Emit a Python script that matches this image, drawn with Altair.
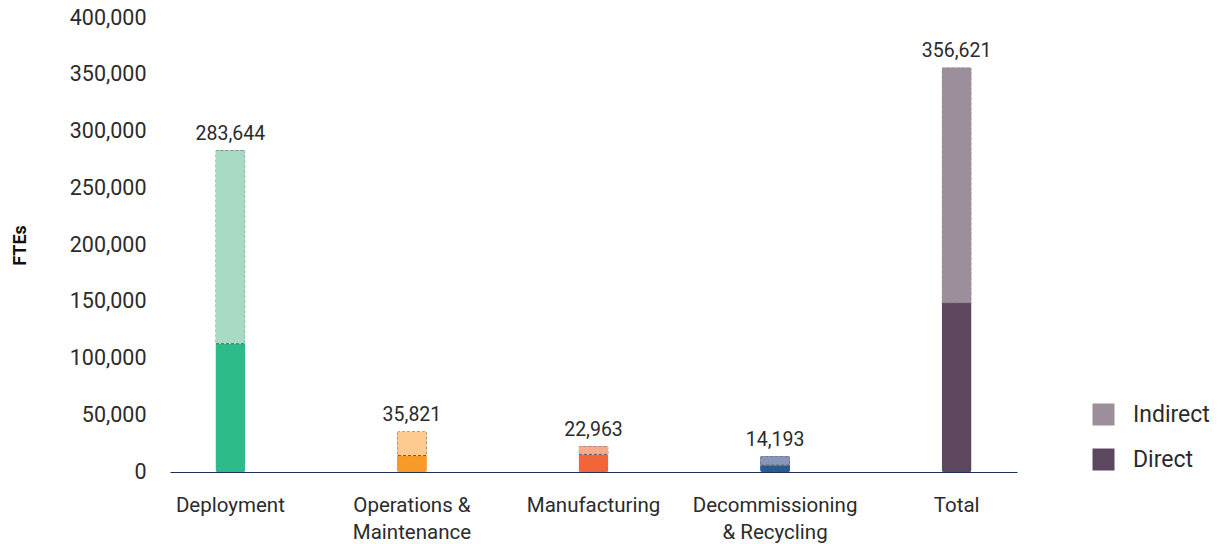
import altair as alt
import pandas as pd

categories = ["Deployment", "Operations &\nMaintenance", "Manufacturing", "Decommissioning\n& Recycling", "Total"]
totals = [283644, 35821, 22963, 14193, 356621]
direct = [113000, 14500, 15500, 6000, 149000]
direct_colors = ["#2ebb8a", "#f89a28", "#f26539", "#2a5a8e", "#5c475e"]
indirect_colors = ["#a8d9c2", "#fdcb90", "#f8ab8b", "#8795b8", "#9d8e9c"]
y_ticks = [0, 50000, 100000, 150000, 200000, 250000, 300000, 350000, 400000]

rows = []
for c, t, d, dc, ic in zip(categories, totals, direct, direct_colors, indirect_colors):
    rows.append({"category": c, "type": "Direct", "value": d, "fill": dc, "ord": 0})
    rows.append({"category": c, "type": "Indirect", "value": t - d, "fill": ic, "ord": 1})
bars_df = pd.DataFrame(rows)
tot_df = pd.DataFrame({"category": categories, "total": totals})

FONT = "Roboto"
TXT = "#2b2b2b"

x_enc = alt.X(
    "category:N",
    sort=categories,
    scale=alt.Scale(paddingInner=0.835, paddingOuter=0.25),
    axis=alt.Axis(
        title=None, labelAngle=0, ticks=False, domainColor="#1c2f56", domainWidth=1.2,
        labelFontSize=20.5, labelColor=TXT, labelPadding=23, labelLineHeight=27,
        labelExpr="split(datum.label, '\\n')", labelFont=FONT,
    ),
)
y_axis = alt.Axis(
    title="FTEs", values=y_ticks, format=",d", grid=False, domain=False, ticks=False,
    labelFontSize=21.5, labelColor=TXT, labelPadding=24, labelFont=FONT,
    titleFontSize=18, titleFontWeight="bold", titleColor="#111", titleFont=FONT,
    titleX=-141, titleY=227, titleAngle=-90,
)
y_scale = alt.Scale(domain=[0, 400000], nice=False)
y_enc = alt.Y("value:Q", stack="zero", scale=y_scale, axis=y_axis)

base = alt.Chart(bars_df)

sectors = base.transform_filter(alt.datum.category != "Total").mark_bar(
    cornerRadius=2, strokeDash=[3, 2], stroke="#555a66"
).encode(
    x=x_enc,
    y=y_enc,
    fill=alt.Fill("fill:N", scale=None),
    strokeWidth=alt.condition(alt.datum.type == "Indirect", alt.value(1), alt.value(0)),
    order=alt.Order("ord:Q"),
)

total = base.transform_filter(alt.datum.category == "Total").mark_bar(
    cornerRadius=2, strokeDash=[3, 2], stroke="#7d6f7d"
).encode(
    x=x_enc,
    y=y_enc,
    color=alt.Color(
        "type:N",
        scale=alt.Scale(domain=["Indirect", "Direct"], range=[indirect_colors[-1], direct_colors[-1]]),
        legend=alt.Legend(
            title=None, orient="none", legendX=922, legendY=385,
            symbolType="square", symbolSize=484, symbolStrokeWidth=0,
            labelFontSize=23, labelColor=TXT, labelFont=FONT, labelOffset=18,
            rowPadding=21,
        ),
    ),
    strokeWidth=alt.condition(alt.datum.type == "Indirect", alt.value(0.8), alt.value(0)),
    order=alt.Order("ord:Q"),
)

labels = alt.Chart(tot_df).mark_text(
    baseline="bottom", dy=-6, fontSize=19.5, color=TXT, font=FONT
).encode(
    x=alt.X("category:N", sort=categories),
    y=alt.Y("total:Q", scale=y_scale, axis=y_axis),
    text=alt.Text("total:Q", format=","),
)

chart = alt.layer(sectors, total, labels).properties(
    width=847, height=454,
    autosize="none",
    background="white",
    padding={"left": 170, "top": 18, "right": 205, "bottom": 72},
).configure_view(stroke=None)

chart.save("out.html", embed_options={"renderer": "svg", "actions": False})
